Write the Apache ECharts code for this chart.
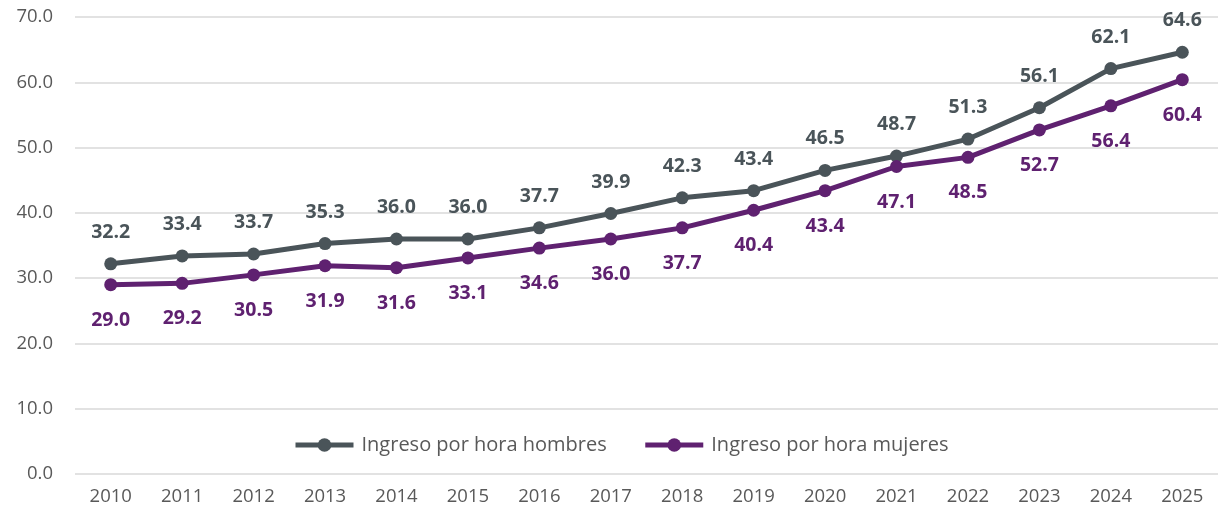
<!DOCTYPE html>
<html>
<head>
<meta charset="utf-8">
<script src="https://cdn.jsdelivr.net/npm/echarts@6/dist/echarts.min.js"></script>
<style>
html,body{margin:0;padding:0;background:#fff;}
#chart{width:1218px;height:518px;}
</style>
</head>
<body>
<div id="chart"></div>
<script>
var years = ["2010","2011","2012","2013","2014","2015","2016","2017","2018","2019","2020","2021","2022","2023","2024","2025"];
var hombres = [32.2,33.4,33.7,35.3,36.0,36.0,37.7,39.9,42.3,43.4,46.5,48.7,51.3,56.1,62.1,64.6];
var mujeres = [29.0,29.2,30.5,31.9,31.6,33.1,34.6,36.0,37.7,40.4,43.4,47.1,48.5,52.7,56.4,60.4];

(function(){
    var myChart = echarts.init(document.getElementById("chart"));
    var font = "'Open Sans', sans-serif";
    var option = {
        backgroundColor: '#fff',
        color: ['#4a5459', '#5f2170'],
        animation: false,
        grid: {
            left: 75,
            top: 17,
            right: 0,
            bottom: 44
        },
        legend: {
            left: 288,
            top: 430,
            width: 900,
            itemWidth: 58,
            itemHeight: 17,
            itemGap: 36,
            lineStyle: { width: 5 },
            textStyle: {
                fontFamily: font,
                fontSize: 20,
                color: '#595959',
                padding: [0, 0, 0, 3]
            }
        },
        xAxis: {
            type: 'category',
            data: years,
            axisLine: { show: false },
            axisTick: { show: false },
            axisLabel: {
                fontFamily: font,
                fontSize: 18.5,
                color: '#595959',
                margin: 13
            }
        },
        yAxis: {
            type: 'value',
            min: 0,
            max: 70,
            interval: 10,
            splitLine: {
                show: true,
                lineStyle: { color: '#d9d9d9', width: 1.5 }
            },
            axisLine: { show: false },
            axisLabel: {
                fontFamily: font,
                fontSize: 18.5,
                color: '#595959',
                margin: 22,
                formatter: function (v) { return v.toFixed(1); }
            }
        },
        series: [{
            name: 'Ingreso por hora hombres',
            type: 'line',
            data: hombres,
            symbol: 'circle',
            symbolSize: 13,
            lineStyle: { width: 5 },
            label: {
                show: true,
                position: 'top',
                distance: 15,
                fontFamily: font,
                fontSize: 19.5,
                fontWeight: 'bold',
                color: '#4a5459',
                formatter: function (p) { return p.value.toFixed(1); }
            }
        }, {
            name: 'Ingreso por hora mujeres',
            type: 'line',
            data: mujeres,
            symbol: 'circle',
            symbolSize: 13,
            lineStyle: { width: 5 },
            label: {
                show: true,
                position: 'bottom',
                distance: 19,
                fontFamily: font,
                fontSize: 19.5,
                fontWeight: 'bold',
                color: '#5f2170',
                formatter: function (p) { return p.value.toFixed(1); }
            }
        }]
    };
    myChart.setOption(option);
    window.addEventListener('resize', function() {
        myChart.resize();
    });
})();
</script>
</body>
</html>
